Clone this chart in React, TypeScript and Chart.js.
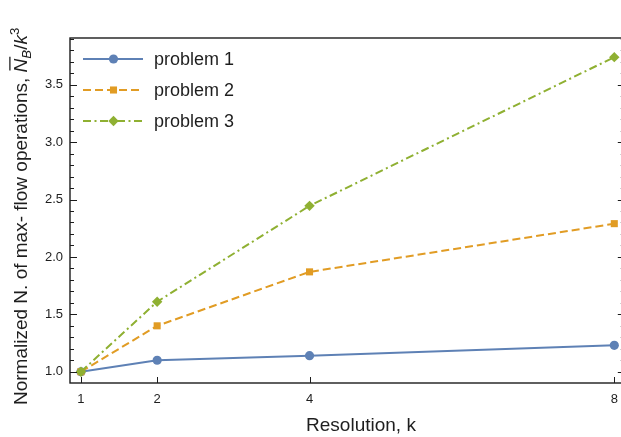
import React, { useEffect, useRef } from 'react';
import { Chart, registerables } from 'chart.js';

Chart.register(...registerables);

const FONT = "'Liberation Sans', Arial, Helvetica, sans-serif";
const TEXT_COLOR = '#1e1e1e';
const FRAME_COLOR = '#1c1c1c';

// ---- data ----
const resolutions = [1, 2, 4, 8];
const problem1 = [1.0, 1.1, 1.14, 1.23];
const problem2 = [1.0, 1.4, 1.87, 2.29];
const problem3 = [1.0, 1.61, 2.445, 3.74];
const seriesLabels = ['problem 1', 'problem 2', 'problem 3'];
const xTickValues = [1, 2, 4, 8];
const yTickValues = [1.0, 1.5, 2.0, 2.5, 3.0, 3.5];
const yMinorStep = 0.1;
const xTitle = 'Resolution, k';
const yTitlePlain = 'Normalized N. of max- flow operations, ';

const X_MIN = 0.856;
const X_MAX = 8.138;
const Y_MIN = 0.902;
const Y_MAX = 3.907;

const seriesStyles = [
  { color: '#5E81B5', dash: [] as number[], point: 'circle', radius: 4.6 },
  { color: '#E19C24', dash: [8, 4], point: 'rect', radius: 5 },
  { color: '#8FB032', dash: [8, 3.5, 2, 3.5], point: 'rectRot', radius: 5.2 },
];

const seriesValues = [problem1, problem2, problem3];

const framePlugin = {
  id: 'mmaFrame',
  afterDatasetsDraw(chart: any) {
    const ctx = chart.ctx as CanvasRenderingContext2D;
    const area = chart.chartArea;
    const xs = chart.scales.x;
    const ys = chart.scales.y;
    ctx.save();
    ctx.strokeStyle = FRAME_COLOR;
    ctx.lineWidth = 1.4;
    ctx.strokeRect(area.left, area.top, area.right - area.left, area.bottom - area.top);
    ctx.lineWidth = 1;
    ctx.beginPath();
    for (const v of xTickValues) {
      const px = Math.round(xs.getPixelForValue(v)) + 0.5;
      ctx.moveTo(px, area.bottom);
      ctx.lineTo(px, area.bottom - 6);
    }
    const majors = new Set(yTickValues.map((v) => v.toFixed(2)));
    const start = Math.ceil(Y_MIN / yMinorStep);
    const end = Math.floor(Y_MAX / yMinorStep);
    for (let i = start; i <= end; i++) {
      const v = i * yMinorStep;
      const isMajor = majors.has(v.toFixed(2));
      const len = isMajor ? 7 : 4;
      const py = Math.round(ys.getPixelForValue(v)) + 0.5;
      ctx.moveTo(area.left, py);
      ctx.lineTo(area.left + len, py);
      ctx.moveTo(area.right, py);
      ctx.lineTo(area.right - len, py);
    }
    ctx.stroke();
    ctx.restore();

    // legend
    const rows = [59, 90, 121];
    chart.data.datasets.forEach((ds: any, i: number) => {
      const st = seriesStyles[i];
      const y = rows[i];
      ctx.save();
      ctx.strokeStyle = st.color;
      ctx.lineWidth = 2;
      ctx.setLineDash(st.dash);
      ctx.beginPath();
      ctx.moveTo(83, y);
      ctx.lineTo(143, y);
      ctx.stroke();
      ctx.setLineDash([]);
      ctx.fillStyle = st.color;
      drawMarker(ctx, st.point, st.radius, 113.5, y);
      ctx.fillStyle = TEXT_COLOR;
      ctx.font = `18px ${FONT}`;
      ctx.textBaseline = 'middle';
      ctx.textAlign = 'left';
      ctx.fillText(ds.label, 154, y + 1);
      ctx.restore();
    });

    // x title
    ctx.save();
    ctx.fillStyle = TEXT_COLOR;
    ctx.font = `19px ${FONT}`;
    ctx.textAlign = 'center';
    ctx.textBaseline = 'alphabetic';
    ctx.fillText(xTitle, 361, 431);
    ctx.restore();

    drawYTitle(ctx);
  },
};

function drawMarker(ctx: CanvasRenderingContext2D, type: string, r: number, x: number, y: number) {
  ctx.beginPath();
  if (type === 'circle') {
    ctx.arc(x, y, r, 0, Math.PI * 2);
  } else if (type === 'rect') {
    const s = Math.SQRT1_2 * r;
    ctx.rect(x - s, y - s, 2 * s, 2 * s);
  } else {
    ctx.moveTo(x, y - r);
    ctx.lineTo(x + r, y);
    ctx.lineTo(x, y + r);
    ctx.lineTo(x - r, y);
    ctx.closePath();
  }
  ctx.fill();
}

function drawYTitle(ctx: CanvasRenderingContext2D) {
  const size = 19;
  const parts = [
    { t: yTitlePlain, style: '', size, dy: 0, bar: false },
    { t: 'N', style: 'italic ', size, dy: 0, bar: true },
    { t: 'B', style: 'italic ', size: size * 0.7, dy: size * 0.22, bar: false },
    { t: '/', style: '', size, dy: 0, bar: false },
    { t: 'k', style: 'italic ', size, dy: 0, bar: false },
    { t: '3', style: '', size: size * 0.7, dy: -size * 0.42, bar: false },
  ];
  ctx.save();
  ctx.fillStyle = TEXT_COLOR;
  ctx.strokeStyle = TEXT_COLOR;
  ctx.textBaseline = 'alphabetic';
  ctx.textAlign = 'left';
  ctx.translate(27, 405);
  ctx.rotate(-Math.PI / 2);
  let x = 0;
  for (const p of parts) {
    ctx.font = `${p.style}${p.size}px ${FONT}`;
    ctx.fillText(p.t, x, p.dy);
    const w = ctx.measureText(p.t).width;
    if (p.bar) {
      ctx.lineWidth = 1.3;
      ctx.beginPath();
      ctx.moveTo(x + 2, -size * 0.9);
      ctx.lineTo(x + w + 2, -size * 0.9);
      ctx.stroke();
    }
    x += w;
  }
  ctx.restore();
}

export default function App() {
  const ref = useRef<HTMLCanvasElement | null>(null);
  useEffect(() => {
    if (!ref.current) return;
    Chart.defaults.font.family = FONT;
    const chart = new Chart(ref.current, {
      type: 'line',
      data: {
        datasets: seriesValues.map((vals, i) => ({
          label: seriesLabels[i],
          data: resolutions.map((r, j) => ({ x: r, y: vals[j] })),
          borderColor: seriesStyles[i].color,
          backgroundColor: seriesStyles[i].color,
          borderWidth: 2,
          borderDash: seriesStyles[i].dash,
          pointStyle: seriesStyles[i].point as any,
          pointRadius: seriesStyles[i].radius,
          pointBorderWidth: 0,
          pointBackgroundColor: seriesStyles[i].color,
          tension: 0,
          fill: false,
          order: 3 - i,
          clip: false as any,
        })),
      },
      options: {
        responsive: false,
        animation: false,
        layout: { padding: { left: 0, top: 38, right: 0, bottom: 0 } },
        plugins: { legend: { display: false }, tooltip: { enabled: false } },
        scales: {
          x: {
            type: 'linear',
            min: X_MIN,
            max: X_MAX,
            grid: { display: false, drawTicks: false },
            border: { display: false },
            afterBuildTicks: (s: any) => {
              s.ticks = xTickValues.map((v) => ({ value: v }));
            },
            afterFit: (s: any) => {
              s.height = 54;
              s.paddingLeft = 0;
              s.paddingRight = 0;
            },
            ticks: {
              padding: 9,
              color: TEXT_COLOR,
              font: { size: 13, family: FONT },
              callback: (v: any) => String(v),
            },
          },
          y: {
            type: 'linear',
            min: Y_MIN,
            max: Y_MAX,
            grid: { display: false, drawTicks: false },
            border: { display: false },
            afterBuildTicks: (s: any) => {
              s.ticks = yTickValues.map((v) => ({ value: v }));
            },
            afterFit: (s: any) => {
              s.width = 70;
              s.paddingTop = 0;
              s.paddingBottom = 0;
            },
            ticks: {
              padding: 7,
              color: TEXT_COLOR,
              font: { size: 13, family: FONT },
              callback: (v: any) => Number(v).toFixed(1),
            },
          },
        },
      },
      plugins: [framePlugin],
    });
    return () => chart.destroy();
  }, []);
  return (
    <div style={{ position: 'fixed', left: 0, top: 0, width: 621, height: 437, overflow: 'hidden', background: '#fff' }}>
      <canvas ref={ref} width={630} height={437} style={{ display: 'block' }} />
    </div>
  );
}
